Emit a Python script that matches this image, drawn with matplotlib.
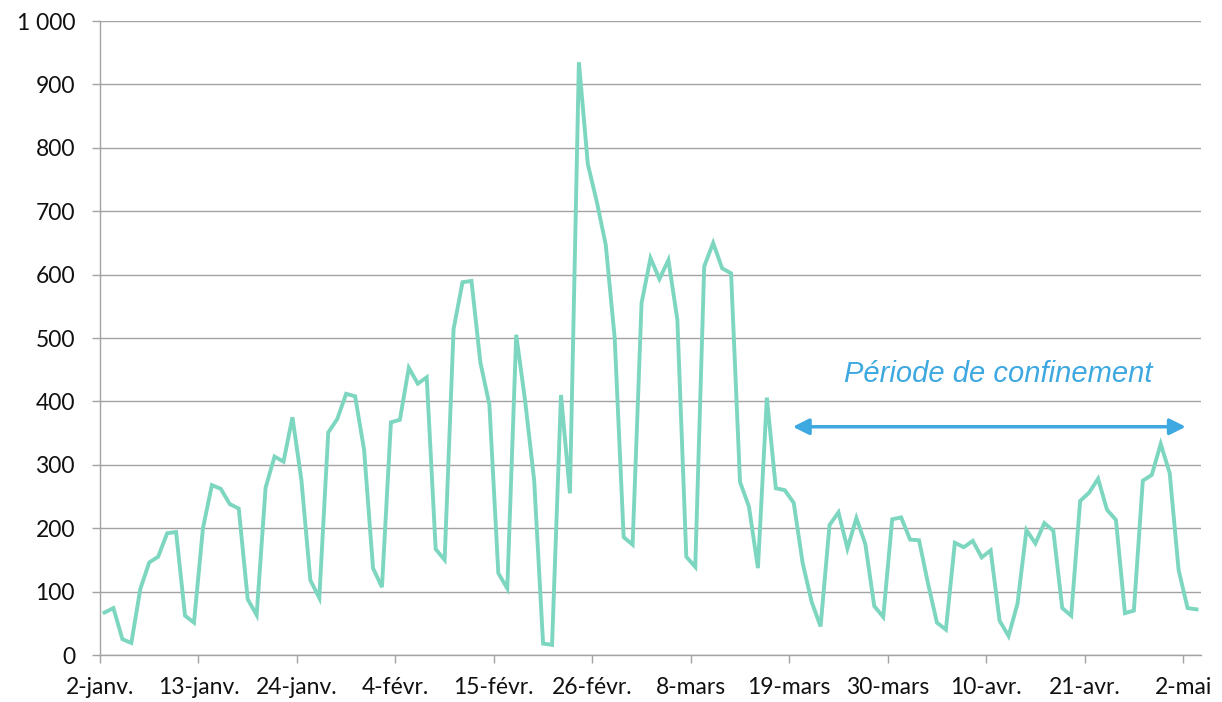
import numpy as np
import matplotlib
matplotlib.use("Agg")
import matplotlib.pyplot as plt

# Daily values from 2 Jan to 3 May (one per day)
values = [67, 74, 25, 19, 104, 146, 155, 192, 194, 62,
          51, 200, 268, 262, 238, 231, 88, 63, 264, 313,
          305, 375, 276, 118, 90, 351, 372, 412, 408, 324,
          137, 107, 367, 371, 453, 428, 438, 167, 150, 514,
          588, 590, 461, 395, 129, 105, 505, 400, 276, 18,
          16, 410, 255, 935, 774, 715, 647, 500, 186, 174,
          555, 626, 593, 623, 529, 155, 139, 613, 650, 610,
          602, 273, 234, 137, 406, 263, 260, 240, 145, 84,
          45, 205, 225, 168, 216, 175, 77, 60, 214, 217,
          182, 181, 113, 51, 40, 177, 170, 180, 154, 165,
          54, 30, 81, 197, 176, 208, 196, 74, 62, 243,
          256, 278, 229, 213, 66, 70, 275, 284, 333, 287,
          134, 74, 72]

x_tick_labels = ['2-janv.', '13-janv.', '24-janv.', '4-févr.', '15-févr.', '26-févr.',
                 '8-mars', '19-mars', '30-mars', '10-avr.', '21-avr.', '2-mai']
x_tick_step = 11
y_ticks = [0, 100, 200, 300, 400, 500, 600, 700, 800, 900, 1000]
y_tick_labels = ['0', '100', '200', '300', '400', '500', '600', '700', '800', '900', '1 000']

annotation_text = 'Période de confinement'
confinement_start = 77.4   # day index (arrow start)
confinement_end = 121.3    # day index (arrow end)
arrow_level = 360

plt.rcParams['font.family'] = ['Lato', 'DejaVu Sans']

fig = plt.figure(figsize=(12.22, 7.02), dpi=100)
ax = fig.add_axes([100 / 1222, 1 - 655 / 702, (1201 - 100) / 1222, (655 - 21) / 702])

n = len(values)
x = np.arange(n) + 0.5
ax.plot(x, values, color='#7dd6bf', lw=2.8, solid_joinstyle='miter', zorder=3)

ax.set_xlim(0, n)
ax.set_ylim(0, 1000)

ax.set_xticks(np.arange(len(x_tick_labels)) * x_tick_step)
ax.set_xticklabels(x_tick_labels)
ax.set_yticks(y_ticks)
ax.set_yticklabels(y_tick_labels)

grid_col = '#a3a3a3'
ax.yaxis.grid(True, color=grid_col, lw=1.0)
ax.set_axisbelow(True)
for s in ['top', 'right']:
    ax.spines[s].set_visible(False)
for s in ['left', 'bottom']:
    ax.spines[s].set_color(grid_col)
    ax.spines[s].set_linewidth(1.0)

ax.tick_params(axis='y', direction='out', length=6, width=1.0, color=grid_col,
               pad=12, labelsize=16.5, labelcolor='#111111')
ax.tick_params(axis='x', direction='out', length=5.5, width=1.0, color=grid_col,
               pad=10, labelsize=16.5, labelcolor='#111111')

blue = '#3ea8e0'
ax.annotate('', xy=(confinement_end, arrow_level), xytext=(confinement_start, arrow_level),
            arrowprops=dict(arrowstyle='<|-|>', color=blue, lw=2.5,
                            mutation_scale=24, shrinkA=0, shrinkB=0), zorder=4)
ax.text((confinement_start + confinement_end) / 2 + 1.0, 431, annotation_text,
        color=blue, fontsize=21, style='italic', ha='center', va='baseline',
        family=['Liberation Sans', 'DejaVu Sans'])

fig.savefig('out.png', dpi=100)
